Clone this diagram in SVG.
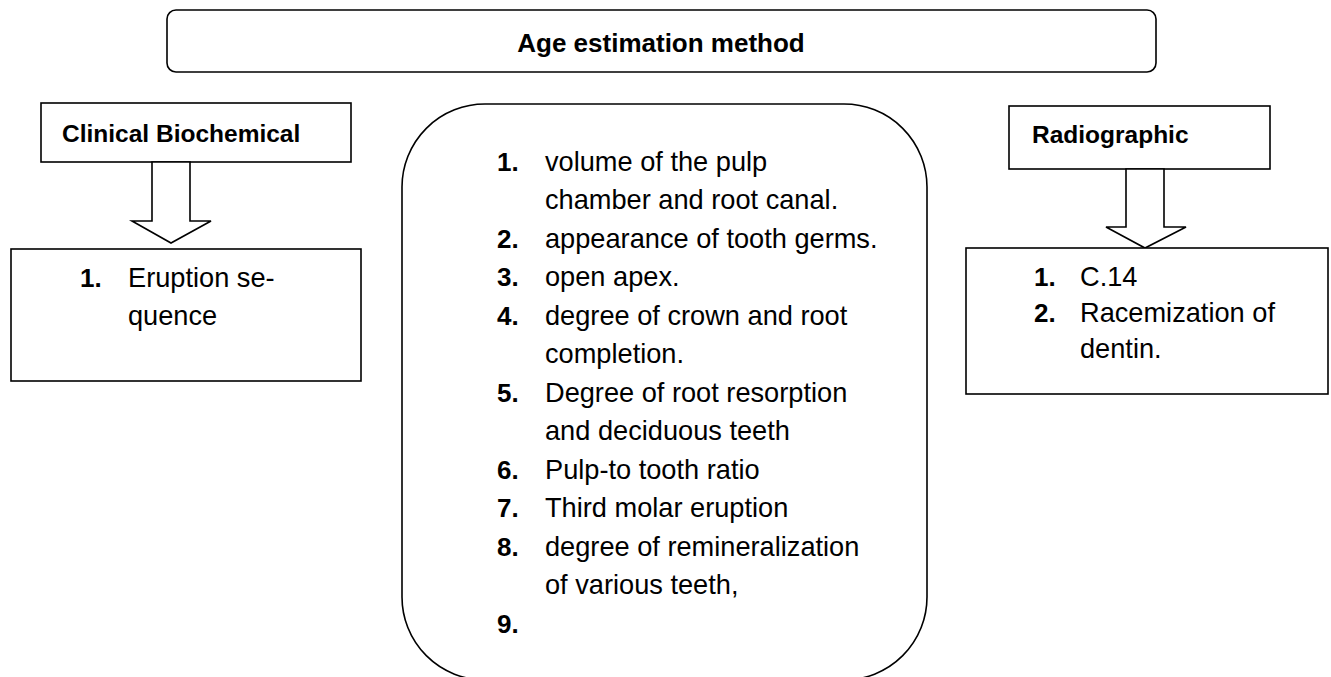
<svg xmlns="http://www.w3.org/2000/svg" width="1331" height="677" viewBox="0 0 1331 677">
<style>
.box{fill:#fff;stroke:#000;stroke-width:1.6}
.arrow{fill:#fff;stroke:#000;stroke-width:1.6;stroke-linejoin:miter}
.t{font-family:"Liberation Sans",Arial,sans-serif;font-size:27.2px;fill:#000}
.n{font-family:"Liberation Sans",Arial,sans-serif;font-size:26px;font-weight:bold;fill:#000}
.h{font-family:"Liberation Sans",Arial,sans-serif;font-size:24.5px;font-weight:bold;fill:#000}
.ttl{font-family:"Liberation Sans",Arial,sans-serif;font-size:26px;font-weight:bold;fill:#000}
</style>
<rect width="1331" height="677" fill="#fff"/>
<g id="title">
<rect class="box" x="167" y="10" width="989" height="62" rx="9" ry="9"/>
<text class="ttl" x="661" y="52" text-anchor="middle">Age estimation method</text>
</g>
<g id="clinical">
<rect class="box" x="41" y="103" width="310" height="59"/>
<text class="h" x="62" y="142">Clinical Biochemical</text>
</g>
<g id="radiographic">
<rect class="box" x="1009" y="106" width="261" height="63"/>
<text class="h" x="1032" y="143">Radiographic</text>
</g>
<g id="connectors">
<polygon class="arrow" points="152,162 152,221 132,221 171,243 211,221 190,221 190,162"/>
<polygon class="arrow" points="1126,169 1126,227 1106,227 1145,248 1186,227 1164,227 1164,169"/>
</g>
<g id="clinical-list">
<rect class="box" x="11" y="249" width="350" height="132"/>
<text class="n" x="80" y="287">1.</text>
<text class="t" x="128" y="287">Eruption se-</text>
<text class="t" x="128" y="325">quence</text>
</g>
<g id="middle-list">
<rect class="box" x="402" y="104" width="525" height="576" rx="83" ry="83"/>
<text class="n" x="497" y="171">1.</text>
<text class="t" x="545" y="171">volume of the pulp</text>
<text class="t" x="545" y="209">chamber and root canal.</text>
<text class="n" x="497" y="248">2.</text>
<text class="t" x="545" y="248">appearance of tooth germs.</text>
<text class="n" x="497" y="286">3.</text>
<text class="t" x="545" y="286">open apex.</text>
<text class="n" x="497" y="325">4.</text>
<text class="t" x="545" y="325">degree of crown and root</text>
<text class="t" x="545" y="363">completion.</text>
<text class="n" x="497" y="402">5.</text>
<text class="t" x="545" y="402">Degree of root resorption</text>
<text class="t" x="545" y="440">and deciduous teeth</text>
<text class="n" x="497" y="479">6.</text>
<text class="t" x="545" y="479">Pulp-to tooth ratio</text>
<text class="n" x="497" y="517">7.</text>
<text class="t" x="545" y="517">Third molar eruption</text>
<text class="n" x="497" y="556">8.</text>
<text class="t" x="545" y="556">degree of remineralization</text>
<text class="t" x="545" y="594">of various teeth,</text>
<text class="n" x="497" y="633">9.</text>
</g>
<g id="radiographic-list">
<rect class="box" x="966" y="248" width="362" height="146"/>
<text class="n" x="1034" y="286">1.</text>
<text class="t" x="1080" y="286">C.14</text>
<text class="n" x="1034" y="322">2.</text>
<text class="t" x="1080" y="322">Racemization of</text>
<text class="t" x="1080" y="358">dentin.</text>
</g>
</svg>
